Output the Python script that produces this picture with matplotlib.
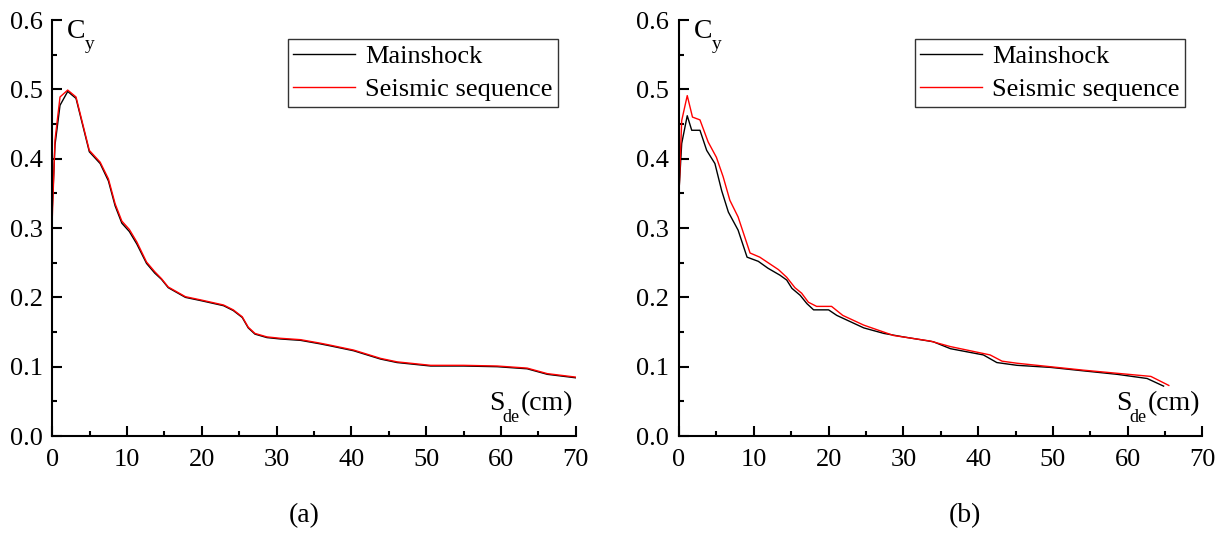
import matplotlib
matplotlib.use("Agg")
import matplotlib.pyplot as plt
from matplotlib.ticker import MultipleLocator

plt.rcParams['font.family'] = ['Liberation Serif', 'DejaVu Serif']

# panel (a)
xa = [0, 0.36, 1.03, 2.06, 3.17, 4.95, 6.4, 7.5, 8.4, 9.3, 10.3, 11.3, 12.6, 13.7, 14.6,
      15.5, 17.8, 20.0, 22.9, 24.2, 25.4, 26.2, 27.1, 28.7, 30.5, 33.2, 35.8, 37.2, 40.3,
      43.9, 46.1, 50.6, 55.0, 59.5, 63.5, 66.2, 70.0]
ya_main = [0.33, 0.42, 0.477, 0.497, 0.487, 0.410, 0.393, 0.368, 0.332, 0.307, 0.295, 0.277,
           0.249, 0.235, 0.226, 0.214, 0.200, 0.195, 0.188, 0.181, 0.171, 0.156, 0.147, 0.142,
           0.140, 0.138, 0.133, 0.130, 0.123, 0.111, 0.106, 0.101, 0.101, 0.100, 0.097, 0.089, 0.084]
ya_seq = [0.316, 0.427, 0.489, 0.499, 0.489, 0.412, 0.395, 0.371, 0.335, 0.310, 0.298, 0.280,
          0.251, 0.237, 0.227, 0.215, 0.201, 0.196, 0.189, 0.182, 0.172, 0.157, 0.148, 0.143,
          0.141, 0.139, 0.134, 0.131, 0.124, 0.112, 0.107, 0.102, 0.102, 0.101, 0.098, 0.090, 0.085]

# panel (b)
xb_main = [0, 0.36, 1.1, 1.7, 2.8, 3.7, 4.8, 5.7, 6.6, 7.9, 9.1, 10.6, 11.9, 13.5, 14.4,
           15.1, 16.2, 17.1, 18.0, 20.0, 21.1, 22.9, 24.7, 27.4, 30.0, 34.0, 36.3, 40.7, 42.5,
           45.2, 49.7, 54.1, 58.6, 62.6, 64.8]
yb_main = [0.354, 0.422, 0.462, 0.441, 0.441, 0.412, 0.393, 0.354, 0.323, 0.297, 0.258, 0.252,
           0.242, 0.232, 0.225, 0.213, 0.203, 0.191, 0.182, 0.182, 0.174, 0.165, 0.156, 0.148,
           0.143, 0.136, 0.126, 0.117, 0.106, 0.102, 0.099, 0.094, 0.089, 0.083, 0.072]
xb_seq = [0, 0.36, 1.1, 1.8, 2.8, 3.9, 5.0, 5.9, 6.8, 7.9, 9.5, 10.8, 13.3, 14.4, 15.5,
          16.4, 17.3, 18.4, 20.4, 21.9, 24.7, 28.7, 33.6, 36.3, 41.6, 43.2, 45.2, 54.1, 63.1, 65.5]
yb_seq = [0.35, 0.455, 0.491, 0.460, 0.456, 0.424, 0.402, 0.374, 0.340, 0.316, 0.264, 0.258,
          0.240, 0.229, 0.214, 0.206, 0.193, 0.187, 0.187, 0.174, 0.160, 0.145, 0.137, 0.129,
          0.117, 0.108, 0.105, 0.095, 0.086, 0.073]

panels = [(xa, ya_main, xa, ya_seq, '(a)', 0.482),
          (xb_main, yb_main, xb_seq, yb_seq, '(b)', 0.546)]

fig = plt.figure(figsize=(12.25, 5.37), dpi=100)
lefts = [0.0427, 0.5543]
fs = 19

for left, (x1, y1, x2, y2, tag, tag_x) in zip(lefts, panels):
    ax = fig.add_axes([left, 0.188, 0.4273, 0.7747])
    ax.plot(x1, y1, color='black', lw=1.0, label='Mainshock')
    ax.plot(x2, y2, color='red', lw=1.0, label='Seismic sequence')
    ax.set_xlim(0, 70)
    ax.set_ylim(0, 0.6)
    ax.xaxis.set_major_locator(MultipleLocator(10))
    ax.xaxis.set_minor_locator(MultipleLocator(5))
    ax.yaxis.set_major_locator(MultipleLocator(0.1))
    ax.yaxis.set_minor_locator(MultipleLocator(0.05))
    ax.set_yticklabels([f'{v:.1f}' for v in ax.get_yticks()])
    ax.spines['top'].set_visible(False)
    ax.spines['right'].set_visible(False)
    for s in ('left', 'bottom'):
        ax.spines[s].set_linewidth(1.5)
    ax.tick_params(which='major', direction='in', length=7, width=1.5, labelsize=fs)
    ax.tick_params(axis='x', which='major', pad=9)
    ax.tick_params(axis='y', which='major', pad=7)
    ax.tick_params(which='minor', direction='in', length=3.5, width=1.5)

    # axis titles sit inside the frame, built from pieces for the subscripts
    ax.text(1.93, 0.574, 'C', fontsize=20, va='baseline', ha='left')
    ax.text(4.37, 0.5586, 'y', fontsize=14, va='baseline', ha='left')
    ax.text(58.45, 0.0375, 'S', fontsize=20, va='baseline', ha='left')
    ax.text(60.2, 0.0206, 'de', fontsize=13, va='baseline', ha='left')
    ax.text(62.65, 0.0375, '(cm)', fontsize=20, va='baseline', ha='left')

    ax.text(tag_x, -0.192, tag, transform=ax.transAxes, fontsize=20, ha='center', va='center')
    leg = ax.legend(loc='upper right', bbox_to_anchor=(0.966, 0.954), borderaxespad=0,
                    fontsize=fs, frameon=True, fancybox=False, handlelength=2.35,
                    handletextpad=0.37, borderpad=0.2, labelspacing=0.38)
    leg.get_frame().set_edgecolor('black')
    leg.get_frame().set_linewidth(1.0)

fig.savefig('out.png', dpi=100)
